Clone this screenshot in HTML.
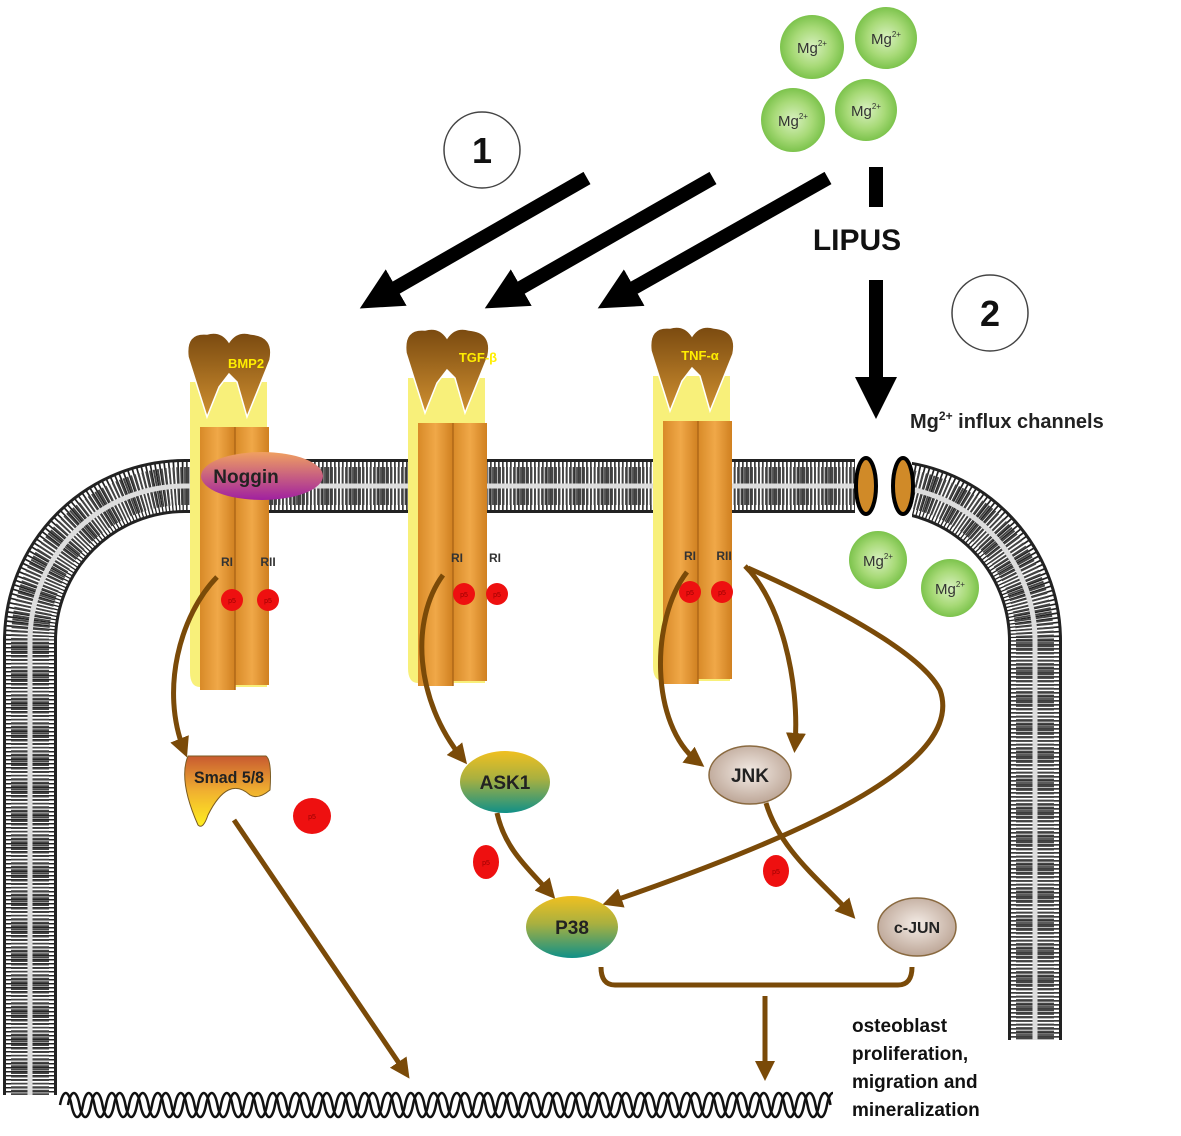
<!DOCTYPE html>
<html><head><meta charset="utf-8"><style>
html,body{margin:0;padding:0;background:#fff;overflow:hidden}
svg{display:block}
text{font-family:"Liberation Sans",sans-serif}
</style></head><body>
<svg width="1181" height="1136" viewBox="0 0 1181 1136" xmlns="http://www.w3.org/2000/svg">
<defs>
<clipPath id="dc"><rect x="55" y="1080" width="778" height="50"/></clipPath>
<radialGradient id="mg" cx="0.5" cy="0.5" r="0.5"><stop offset="0" stop-color="#d8f0c0"/><stop offset="0.6" stop-color="#a8da78"/><stop offset="1" stop-color="#7cc34c"/></radialGradient>
<linearGradient id="cap" x1="0" y1="0" x2="0" y2="1"><stop offset="0" stop-color="#7a4a10"/><stop offset="1" stop-color="#d09030"/></linearGradient>
<linearGradient id="col" x1="0" y1="0" x2="1" y2="0"><stop offset="0" stop-color="#d88a28"/><stop offset="0.5" stop-color="#f0a848"/><stop offset="1" stop-color="#d08020"/></linearGradient>
<linearGradient id="nog" x1="0" y1="0" x2="0" y2="1"><stop offset="0" stop-color="#f0a060"/><stop offset="1" stop-color="#a020a0"/></linearGradient>
<linearGradient id="yt" x1="0" y1="0" x2="0" y2="1"><stop offset="0" stop-color="#f0c020"/><stop offset="0.45" stop-color="#a8b040"/><stop offset="1" stop-color="#109088"/></linearGradient>
<radialGradient id="tan" cx="0.5" cy="0.45" r="0.6"><stop offset="0" stop-color="#f4ece6"/><stop offset="1" stop-color="#b8a090"/></radialGradient>
<linearGradient id="smad" x1="0" y1="0" x2="0" y2="1"><stop offset="0" stop-color="#c85a30"/><stop offset="0.5" stop-color="#f0b030"/><stop offset="1" stop-color="#ffee20"/></linearGradient>
<marker id="ab" viewBox="0 0 10 10" refX="6" refY="5" markerWidth="4" markerHeight="4" orient="auto"><path d="M0,0 L10,5 L0,10 Z" fill="#7a4a08"/></marker>
<marker id="ak" viewBox="0 0 10 10" refX="5" refY="5" markerWidth="3" markerHeight="3" orient="auto"><path d="M0,0 L10,5 L0,10 Z" fill="#000"/></marker>
<g id="rec">
<path d="M5,50 L82,50 L82,355 L15,355 Q5,355 5,340 Z" fill="#f8f07a"/>
<rect x="15" y="95" width="35" height="263" fill="url(#col)"/>
<rect x="50" y="95" width="34" height="258" fill="url(#col)"/>
<line x1="50" y1="95" x2="50" y2="358" stroke="#b06818" stroke-width="1.5"/>
<path d="M3,25 Q0,0 22,2 Q36,-2 44,10 Q52,-2 66,2 Q90,4 85,28 L62,85 L52,50 L44,42 L34,55 L22,85 Z" fill="url(#cap)" stroke="#fff" stroke-width="1.5"/>
</g>
</defs>

<!-- membrane -->
<g fill="none">
<path d="M30,1095 L30,641 A155,155 0 0 1 185,486 L855,486 M912,486 L880,486 A155,155 0 0 1 1035,641 L1035,1040" stroke="#222" stroke-width="54"/>
<path d="M30,1095 L30,641 A155,155 0 0 1 185,486 L855,486 M912,486 L880,486 A155,155 0 0 1 1035,641 L1035,1040" stroke="#fff" stroke-width="48" stroke-dasharray="2.5 1.5"/>
<path d="M30,1095 L30,641 A155,155 0 0 1 185,486 L855,486 M912,486 L880,486 A155,155 0 0 1 1035,641 L1035,1040" stroke="#444" stroke-width="38" stroke-dasharray="1.8 1.7"/>
<path d="M30,1095 L30,641 A155,155 0 0 1 185,486 L855,486 M912,486 L880,486 A155,155 0 0 1 1035,641 L1035,1040" stroke="#ddd" stroke-width="5"/>
</g>
<rect x="855" y="455" width="57" height="62" fill="#fff"/>
<ellipse cx="866" cy="486" rx="10" ry="28" fill="#d08a28" stroke="#000" stroke-width="4"/>
<ellipse cx="903" cy="486" rx="10" ry="28" fill="#d08a28" stroke="#000" stroke-width="4"/>

<!-- receptors -->
<use href="#rec" transform="translate(185,332)"/>
<use href="#rec" transform="translate(403,328)"/>
<use href="#rec" transform="translate(648,326)"/>
<text x="246" y="368" font-size="13" font-weight="bold" fill="#ffee00" text-anchor="middle">BMP2</text>
<text x="478" y="362" font-size="13" font-weight="bold" fill="#ffee00" text-anchor="middle">TGF-β</text>
<text x="700" y="360" font-size="13" font-weight="bold" fill="#ffee00" text-anchor="middle">TNF-α</text>
<ellipse cx="262" cy="476" rx="61" ry="24" fill="url(#nog)"/>
<text x="246" y="483" font-size="19" font-weight="bold" fill="#222" text-anchor="middle">Noggin</text>
<g font-size="12" font-weight="bold" fill="#333" text-anchor="middle">
<text x="227" y="566">RI</text><text x="268" y="566">RII</text>
<text x="457" y="562">RI</text><text x="495" y="562">RI</text>
<text x="690" y="560">RI</text><text x="724" y="560">RII</text>
</g>
<g fill="#ee1010">
<circle cx="232" cy="600" r="11"/><circle cx="268" cy="600" r="11"/>
<circle cx="464" cy="594" r="11"/><circle cx="497" cy="594" r="11"/>
<circle cx="690" cy="592" r="11"/><circle cx="722" cy="592" r="11"/>
<ellipse cx="312" cy="816" rx="19" ry="18"/>
<ellipse cx="486" cy="862" rx="13" ry="17"/>
<ellipse cx="776" cy="871" rx="13" ry="16"/>
</g>
<g font-size="7" fill="#900" text-anchor="middle">
<text x="232" y="603">p5</text><text x="268" y="603">p5</text><text x="464" y="597">p5</text><text x="497" y="597">p5</text><text x="690" y="595">p5</text><text x="722" y="595">p5</text><text x="312" y="819">p5</text><text x="486" y="865">p5</text><text x="776" y="874">p5</text>
</g>

<!-- brown pathways -->
<g fill="none" stroke="#7a4a08" stroke-width="5">
<path d="M217,577 C180,615 160,690 184,750" marker-end="url(#ab)"/>
<path d="M443,575 C410,620 415,700 462,758" marker-end="url(#ab)"/>
<path d="M687,572 C650,620 650,725 698,762" marker-end="url(#ab)"/>
<path d="M745,566 C780,600 800,680 795,745" marker-end="url(#ab)"/>
<path d="M748,568 C820,600 920,650 940,690 C965,760 820,830 610,902" marker-end="url(#ab)"/>
<path d="M497,813 C505,850 530,870 550,893" marker-end="url(#ab)"/>
<path d="M766,803 C780,850 820,880 850,913" marker-end="url(#ab)"/>
<path d="M234,820 L405,1072" marker-end="url(#ab)"/>
<path d="M601,967 Q601,985 615,985 L898,985 Q912,985 912,967"/>
<path d="M765,996 L765,1073" marker-end="url(#ab)"/>
</g>

<!-- nodes -->
<path d="M188,756 L266,756 Q272,760 270,790 Q258,800 250,795 Q228,775 208,815 Q203,830 198,825 Q178,780 188,756 Z" fill="url(#smad)" stroke="#7a5a20" stroke-width="1"/>
<text x="229" y="783" font-size="17" font-weight="bold" fill="#222" text-anchor="middle" textLength="70" lengthAdjust="spacingAndGlyphs">Smad 5/8</text>
<ellipse cx="505" cy="782" rx="45" ry="31" fill="url(#yt)"/>
<text x="505" y="789" font-size="19" font-weight="bold" fill="#222" text-anchor="middle">ASK1</text>
<ellipse cx="750" cy="775" rx="41" ry="29" fill="url(#tan)" stroke="#8a6a40" stroke-width="1.5"/>
<text x="750" y="782" font-size="19" font-weight="bold" fill="#222" text-anchor="middle">JNK</text>
<ellipse cx="572" cy="927" rx="46" ry="31" fill="url(#yt)"/>
<text x="572" y="934" font-size="19" font-weight="bold" fill="#222" text-anchor="middle">P38</text>
<ellipse cx="917" cy="927" rx="39" ry="29" fill="url(#tan)" stroke="#8a6a40" stroke-width="1.5"/>
<text x="917" y="933" font-size="16" font-weight="bold" fill="#222" text-anchor="middle">c-JUN</text>

<!-- DNA -->
<g fill="none" stroke="#111" stroke-width="2.5" clip-path="url(#dc)">
<path id="dna1" d="M60,1105 c3,-16 8.5,-16 11.5,0 c3,16 8.5,16 11.5,0 c3,-16 8.5,-16 11.5,0 c3,16 8.5,16 11.5,0 c3,-16 8.5,-16 11.5,0 c3,16 8.5,16 11.5,0 c3,-16 8.5,-16 11.5,0 c3,16 8.5,16 11.5,0 c3,-16 8.5,-16 11.5,0 c3,16 8.5,16 11.5,0 c3,-16 8.5,-16 11.5,0 c3,16 8.5,16 11.5,0 c3,-16 8.5,-16 11.5,0 c3,16 8.5,16 11.5,0 c3,-16 8.5,-16 11.5,0 c3,16 8.5,16 11.5,0 c3,-16 8.5,-16 11.5,0 c3,16 8.5,16 11.5,0 c3,-16 8.5,-16 11.5,0 c3,16 8.5,16 11.5,0 c3,-16 8.5,-16 11.5,0 c3,16 8.5,16 11.5,0 c3,-16 8.5,-16 11.5,0 c3,16 8.5,16 11.5,0 c3,-16 8.5,-16 11.5,0 c3,16 8.5,16 11.5,0 c3,-16 8.5,-16 11.5,0 c3,16 8.5,16 11.5,0 c3,-16 8.5,-16 11.5,0 c3,16 8.5,16 11.5,0 c3,-16 8.5,-16 11.5,0 c3,16 8.5,16 11.5,0 c3,-16 8.5,-16 11.5,0 c3,16 8.5,16 11.5,0 c3,-16 8.5,-16 11.5,0 c3,16 8.5,16 11.5,0 c3,-16 8.5,-16 11.5,0 c3,16 8.5,16 11.5,0 c3,-16 8.5,-16 11.5,0 c3,16 8.5,16 11.5,0 c3,-16 8.5,-16 11.5,0 c3,16 8.5,16 11.5,0 c3,-16 8.5,-16 11.5,0 c3,16 8.5,16 11.5,0 c3,-16 8.5,-16 11.5,0 c3,16 8.5,16 11.5,0 c3,-16 8.5,-16 11.5,0 c3,16 8.5,16 11.5,0 c3,-16 8.5,-16 11.5,0 c3,16 8.5,16 11.5,0 c3,-16 8.5,-16 11.5,0 c3,16 8.5,16 11.5,0 c3,-16 8.5,-16 11.5,0 c3,16 8.5,16 11.5,0 c3,-16 8.5,-16 11.5,0 c3,16 8.5,16 11.5,0 c3,-16 8.5,-16 11.5,0 c3,16 8.5,16 11.5,0 c3,-16 8.5,-16 11.5,0 c3,16 8.5,16 11.5,0 c3,-16 8.5,-16 11.5,0 c3,16 8.5,16 11.5,0 c3,-16 8.5,-16 11.5,0 c3,16 8.5,16 11.5,0 c3,-16 8.5,-16 11.5,0 c3,16 8.5,16 11.5,0 c3,-16 8.5,-16 11.5,0"/>
<use href="#dna1" transform="translate(8,0)"/>
</g>

<!-- black arrows -->
<g stroke="#000" stroke-width="14" fill="none">
<line x1="587" y1="178" x2="378" y2="298" marker-end="url(#ak)"/>
<line x1="713" y1="178" x2="503" y2="298" marker-end="url(#ak)"/>
<line x1="828" y1="178" x2="616" y2="298" marker-end="url(#ak)"/>
<line x1="876" y1="167" x2="876" y2="207"/>
<line x1="876" y1="280" x2="876" y2="398" marker-end="url(#ak)"/>
</g>
<text x="857" y="250" font-size="30" font-weight="bold" fill="#111" text-anchor="middle">LIPUS</text>
<circle cx="482" cy="150" r="38" fill="#fff" stroke="#444" stroke-width="1.5"/>
<text x="482" y="163" font-size="36" font-weight="bold" fill="#111" text-anchor="middle">1</text>
<circle cx="990" cy="313" r="38" fill="#fff" stroke="#444" stroke-width="1.5"/>
<text x="990" y="326" font-size="36" font-weight="bold" fill="#111" text-anchor="middle">2</text>

<!-- Mg ions -->
<g>
<circle cx="812" cy="47" r="32" fill="url(#mg)"/>
<circle cx="886" cy="38" r="31" fill="url(#mg)"/>
<circle cx="793" cy="120" r="32" fill="url(#mg)"/>
<circle cx="866" cy="110" r="31" fill="url(#mg)"/>
<circle cx="878" cy="560" r="29" fill="url(#mg)"/>
<circle cx="950" cy="588" r="29" fill="url(#mg)"/>
</g>
<g font-size="15" fill="#333" text-anchor="middle">
<text x="812" y="53">Mg<tspan font-size="8" dy="-7">2+</tspan></text>
<text x="886" y="44">Mg<tspan font-size="8" dy="-7">2+</tspan></text>
<text x="793" y="126">Mg<tspan font-size="8" dy="-7">2+</tspan></text>
<text x="866" y="116">Mg<tspan font-size="8" dy="-7">2+</tspan></text>
<text x="878" y="566">Mg<tspan font-size="8" dy="-7">2+</tspan></text>
<text x="950" y="594">Mg<tspan font-size="8" dy="-7">2+</tspan></text>
</g>
<text x="910" y="428" font-size="20" font-weight="bold" fill="#222">Mg<tspan font-size="12" dy="-8">2+</tspan><tspan dy="8"> influx channels</tspan></text>
<g font-size="19" font-weight="bold" fill="#111">
<text x="852" y="1032">osteoblast</text>
<text x="852" y="1060">proliferation,</text>
<text x="852" y="1088">migration and</text>
<text x="852" y="1116">mineralization</text>
</g>
</svg>
</body></html>
